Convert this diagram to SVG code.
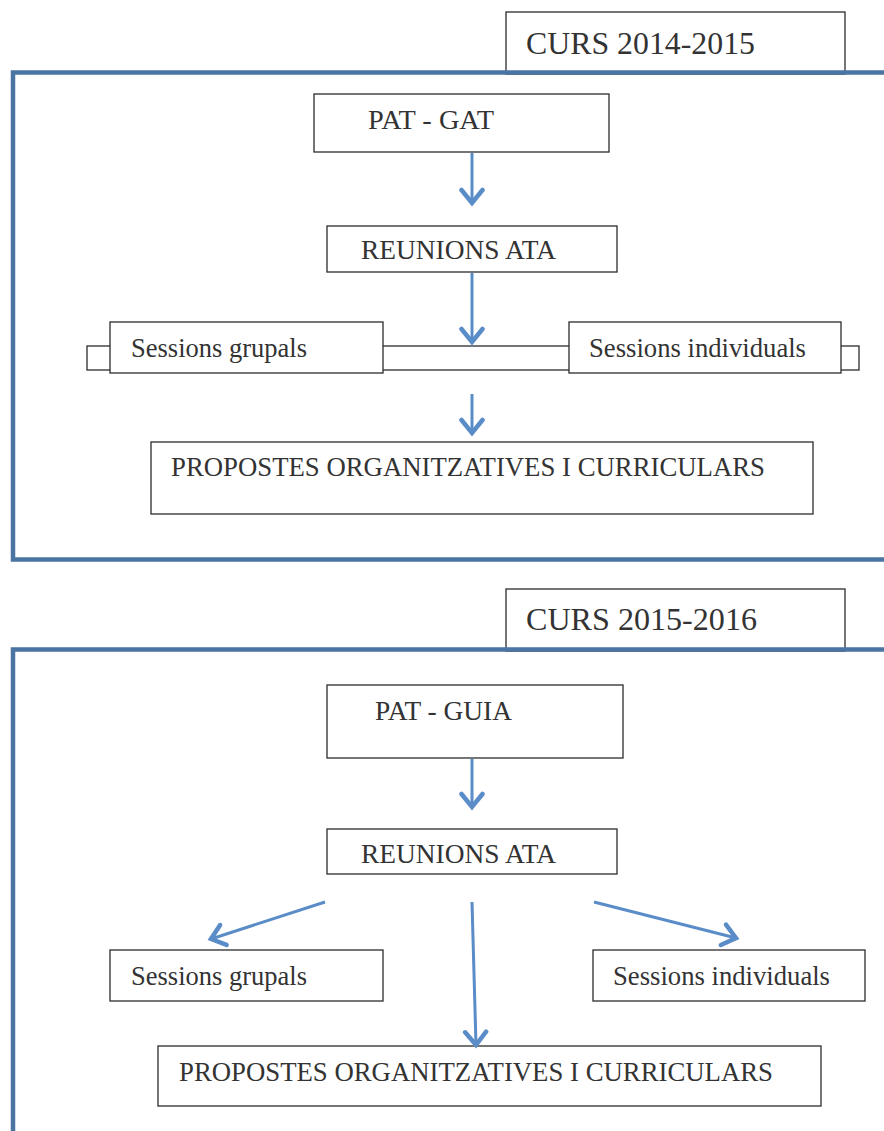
<svg xmlns="http://www.w3.org/2000/svg" width="884" height="1131" viewBox="0 0 884 1131">
  <style>
    .box { fill: #ffffff; stroke: #2b2b2b; stroke-width: 1.3; }
    .frame { fill: none; stroke: #4a74a2; stroke-width: 4.5; }
    .lbl { font-family: "Liberation Serif", "Times New Roman", serif; fill: #333333; font-size: 26.5px; }
    .title { font-size: 32px; }
    .conn { stroke: #5a8cc8; stroke-width: 3; fill: none; marker-end: url(#chev); }
  </style>
  <defs>
    <marker id="chev" markerUnits="userSpaceOnUse" viewBox="-16 -14 20 28" markerWidth="20" markerHeight="28" refX="0" refY="0" orient="auto">
      <path d="M-13,-10.5 L0,0 L-13,10.5" fill="none" stroke="#5a8cc8" stroke-width="4.5" stroke-linecap="round" stroke-linejoin="miter"/>
    </marker>
  </defs>

  <rect width="884" height="1131" fill="#ffffff"/>

  <!-- Course 2014-2015 -->
  <g id="curs-2014-2015">
    <rect class="box" x="506" y="12" width="339" height="62"/>
    <text class="lbl title" x="526" y="54" textLength="229" lengthAdjust="spacingAndGlyphs">CURS 2014-2015</text>
  </g>
  <rect id="frame-2014" class="frame" x="13" y="72.5" width="890" height="487"/>

  <g id="pat-gat">
    <rect class="box" x="314" y="94" width="295" height="58"/>
    <text class="lbl" x="368" y="129" textLength="126" lengthAdjust="spacingAndGlyphs">PAT - GAT</text>
  </g>
  <g id="reunions-1">
    <rect class="box" x="327" y="226" width="290" height="46"/>
    <text class="lbl" x="361" y="259" textLength="195" lengthAdjust="spacingAndGlyphs">REUNIONS ATA</text>
  </g>
  <g id="sessions-bar-1">
    <rect class="box" x="87" y="346" width="772" height="24"/>
  </g>
  <g id="grupals-1">
    <rect class="box" x="110" y="322" width="273" height="51"/>
    <text class="lbl" x="131" y="357" textLength="176" lengthAdjust="spacingAndGlyphs">Sessions grupals</text>
  </g>
  <g id="individuals-1">
    <rect class="box" x="569" y="322" width="272" height="51"/>
    <text class="lbl" x="589" y="357" textLength="217" lengthAdjust="spacingAndGlyphs">Sessions individuals</text>
  </g>
  <g id="propostes-1">
    <rect class="box" x="151" y="442" width="662" height="72"/>
    <text class="lbl" x="171" y="476" textLength="594" lengthAdjust="spacingAndGlyphs">PROPOSTES ORGANITZATIVES I CURRICULARS</text>
  </g>

  <g id="connectors-2014">
    <line class="conn" x1="472" y1="153" x2="472" y2="203"/>
    <line class="conn" x1="472" y1="273" x2="472" y2="342"/>
    <line class="conn" x1="472" y1="394" x2="472" y2="433"/>
  </g>

  <!-- Course 2015-2016 -->
  <g id="curs-2015-2016">
    <rect class="box" x="506" y="589" width="339" height="62"/>
    <text class="lbl title" x="526" y="630" textLength="231" lengthAdjust="spacingAndGlyphs">CURS 2015-2016</text>
  </g>
  <rect id="frame-2015" class="frame" x="13" y="649.5" width="890" height="520"/>

  <g id="pat-guia">
    <rect class="box" x="327" y="685" width="296" height="73"/>
    <text class="lbl" x="375" y="720" textLength="137" lengthAdjust="spacingAndGlyphs">PAT - GUIA</text>
  </g>
  <g id="reunions-2">
    <rect class="box" x="327" y="829" width="290" height="45"/>
    <text class="lbl" x="361" y="863" textLength="195" lengthAdjust="spacingAndGlyphs">REUNIONS ATA</text>
  </g>
  <g id="grupals-2">
    <rect class="box" x="110" y="950" width="273" height="51"/>
    <text class="lbl" x="131" y="985" textLength="176" lengthAdjust="spacingAndGlyphs">Sessions grupals</text>
  </g>
  <g id="individuals-2">
    <rect class="box" x="593" y="950" width="272" height="51"/>
    <text class="lbl" x="613" y="985" textLength="217" lengthAdjust="spacingAndGlyphs">Sessions individuals</text>
  </g>
  <g id="propostes-2">
    <rect class="box" x="158" y="1046" width="663" height="60"/>
    <text class="lbl" x="179" y="1081" textLength="594" lengthAdjust="spacingAndGlyphs">PROPOSTES ORGANITZATIVES I CURRICULARS</text>
  </g>

  <g id="connectors-2015">
    <line class="conn" x1="472" y1="759" x2="472" y2="807"/>
    <line class="conn" x1="325" y1="902" x2="211" y2="939"/>
    <line class="conn" x1="472" y1="902" x2="476" y2="1045"/>
    <line class="conn" x1="594" y1="902" x2="736" y2="938"/>
  </g>
</svg>
